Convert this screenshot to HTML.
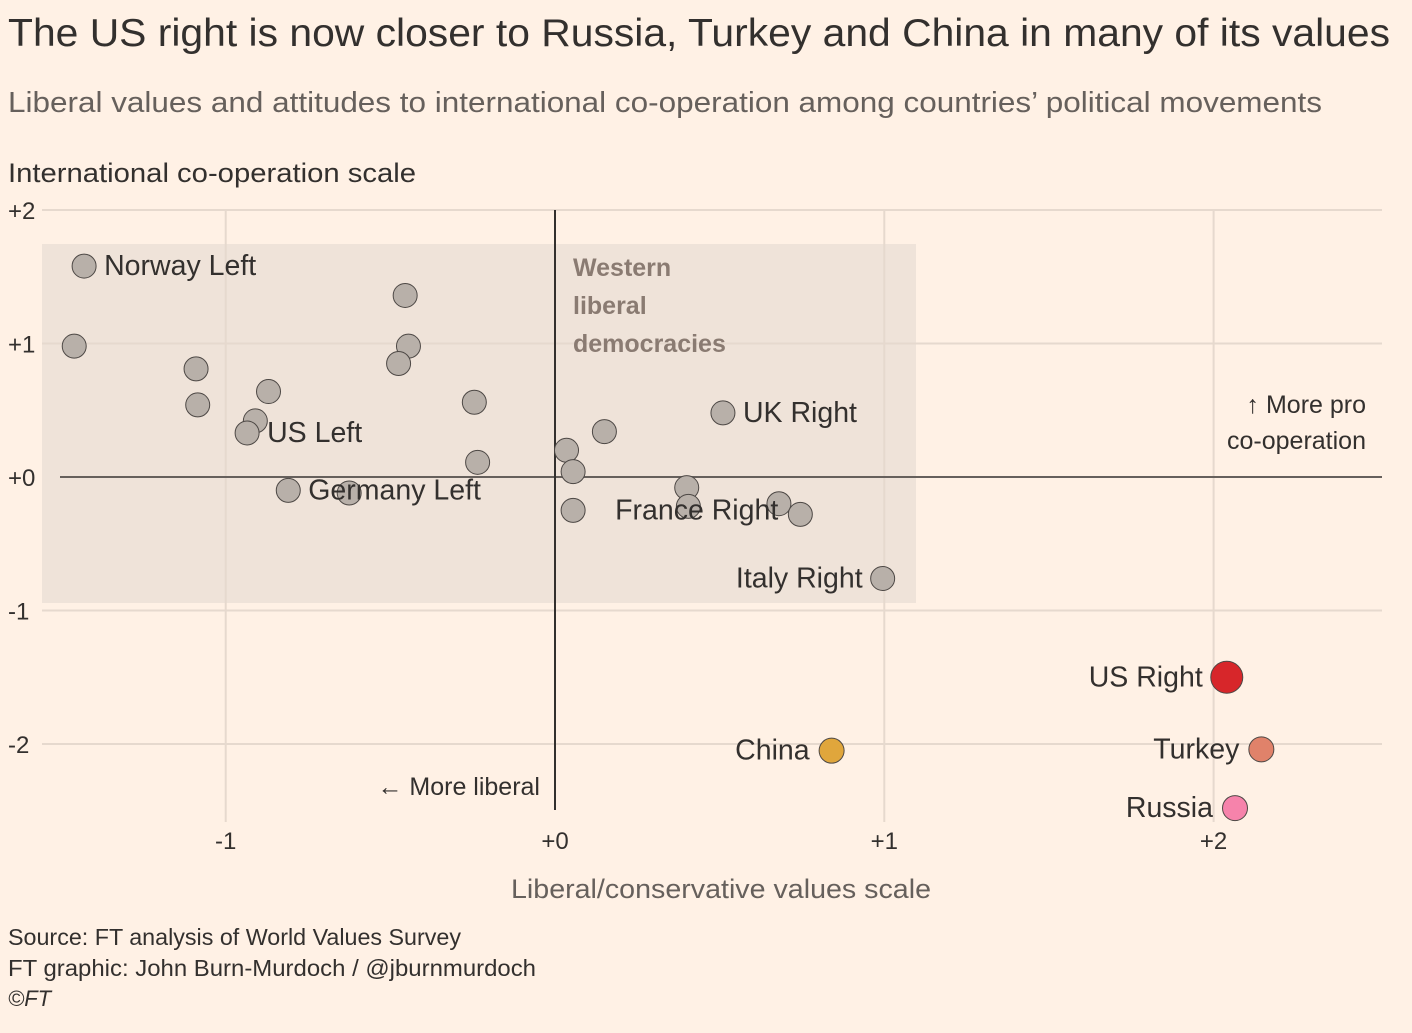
<!DOCTYPE html>
<html><head><meta charset="utf-8">
<style>
body{margin:0;background:#fff1e5;font-family:"Liberation Sans",sans-serif;color:#33302e}
svg text{font-family:"Liberation Sans",sans-serif}
</style></head>
<body>
<svg width="1412" height="1028" xmlns="http://www.w3.org/2000/svg">
<rect width="1412" height="1028" fill="#fff1e5"/>
<text x="8" y="46" font-size="39" textLength="1382" lengthAdjust="spacingAndGlyphs" fill="#33302e">The US right is now closer to Russia, Turkey and China in many of its values</text>
<text x="8" y="112" font-size="29" textLength="1314" lengthAdjust="spacingAndGlyphs" fill="#66605c">Liberal values and attitudes to international co-operation among countries’ political movements</text>
<text x="8" y="182" font-size="27" textLength="408" lengthAdjust="spacingAndGlyphs" fill="#33302e">International co-operation scale</text>
<g id="plot"></g>
<text x="511" y="898" font-size="27" textLength="420" lengthAdjust="spacingAndGlyphs" fill="#66605c">Liberal/conservative values scale</text>
<text x="8" y="945" font-size="23" textLength="453" lengthAdjust="spacingAndGlyphs" fill="#33302e">Source: FT analysis of World Values Survey</text>
<text x="8" y="976" font-size="23" textLength="528" lengthAdjust="spacingAndGlyphs" fill="#33302e">FT graphic: John Burn-Murdoch / @jburnmurdoch</text>
<text x="8" y="1006" font-size="22" font-style="italic" fill="#33302e">©FT</text>
</svg>
<script>
const xTicks=[-1,0,1,2];
const xTickLabels=["-1","+0","+1","+2"];
const yTicks=[2,1,0,-1,-2];
const yTickLabels=["+2","+1","+0","-1","-2"];
const names=["Norway Left","","","","","","US Left","","","","","","Germany Left","","","","","France Right","UK Right","","","","","Italy Right","US Right","China","Turkey","Russia"];
const xVals=[-1.43,-1.46,-1.09,-1.085,-0.87,-0.91,-0.935,-0.455,-0.445,-0.475,-0.245,-0.235,-0.81,-0.625,0.035,0.055,0.15,0.055,0.51,0.40,0.405,0.68,0.745,0.995,2.04,0.84,2.145,2.065];
const yVals=[1.58,0.98,0.81,0.54,0.64,0.42,0.33,1.36,0.98,0.85,0.56,0.11,-0.10,-0.12,0.20,0.04,0.34,-0.25,0.48,-0.08,-0.22,-0.20,-0.28,-0.76,-1.50,-2.05,-2.04,-2.48];
const colors=["#b8b0a9","#b8b0a9","#b8b0a9","#b8b0a9","#b8b0a9","#b8b0a9","#b8b0a9","#b8b0a9","#b8b0a9","#b8b0a9","#b8b0a9","#b8b0a9","#b8b0a9","#b8b0a9","#b8b0a9","#b8b0a9","#b8b0a9","#b8b0a9","#b8b0a9","#b8b0a9","#b8b0a9","#b8b0a9","#b8b0a9","#b8b0a9","#d7262a","#e0a63c","#e0826a","#f683ab"];
const labelSide=["r","","","","","","r","","","","","","r","","","","","r","r","","","","","l","l","l","l","l"];

const X=v=>555+v*329.3;
const Y=v=>477-v*133.5;
const NS="http://www.w3.org/2000/svg";
const g=document.getElementById('plot');
function mk(t,a){const e=document.createElementNS(NS,t);for(const k in a)e.setAttribute(k,a[k]);g.appendChild(e);return e;}

let r=mk('rect',{x:42,y:244,width:874,height:359,fill:'#efe3d9'});


yTicks.forEach((t,i)=>{
 if(t!==0){let l=mk('line',{x1:42,x2:1382,y1:Y(t),y2:Y(t),stroke:'#e6d9ce','stroke-width':2});
 
 }
 let tx=mk('text',{x:8,y:Y(t)+9,'font-size':24,fill:'#33302e'});tx.textContent=yTickLabels[i];
 
 
});
xTicks.forEach((t,i)=>{
 if(t!==0){let l=mk('line',{x1:X(t),x2:X(t),y1:210,y2:822,stroke:'#e6d9ce','stroke-width':2});
 
 }
 let tx=mk('text',{x:X(t),y:849,'font-size':24,fill:'#33302e','text-anchor':'middle'});tx.textContent=xTickLabels[i];
 
 
});
let z=mk('line',{x1:60,x2:1382,y1:Y(0),y2:Y(0),stroke:'#66605c','stroke-width':2});


let vz=mk('line',{x1:X(0),x2:X(0),y1:210,y2:810,stroke:'#33302e','stroke-width':2});



[["Western",268],["liberal",306],["democracies",344]].forEach(a=>{
 let t=mk('text',{x:573,y:a[1]+8,'font-size':25,fill:'#8a7b72','font-weight':'bold'});t.textContent=a[0];
 
 
});
let a1=mk('text',{x:1366,y:413,'font-size':25,fill:'#33302e','text-anchor':'end'});a1.textContent="↑ More pro";


let a2=mk('text',{x:1366,y:449,'font-size':25,fill:'#33302e','text-anchor':'end'});a2.textContent="co-operation";


let a3=mk('text',{x:540,y:795,'font-size':25,fill:'#33302e','text-anchor':'end'});a3.textContent="← More liberal";



xVals.forEach((v,i)=>{
 const big=i>=24;
 let c=mk('circle',{cx:X(v),cy:Y(yVals[i]),r:big?(i==24?16:12.5):12,fill:colors[i],stroke:'#4d4845','stroke-width':1});
 
 
});
xVals.forEach((v,i)=>{
 if(!names[i])return;
 const off=i==24?24:(i>=24?22:(i==17?42:20));
 const right=labelSide[i]=="r";
 let t=mk('text',{x:X(v)+(right?off:-off),y:Y(yVals[i])+9,'font-size':28.5,fill:'#33302e','text-anchor':right?'start':'end'});
 t.textContent=names[i];
 
 
});
</script>
</body></html>
